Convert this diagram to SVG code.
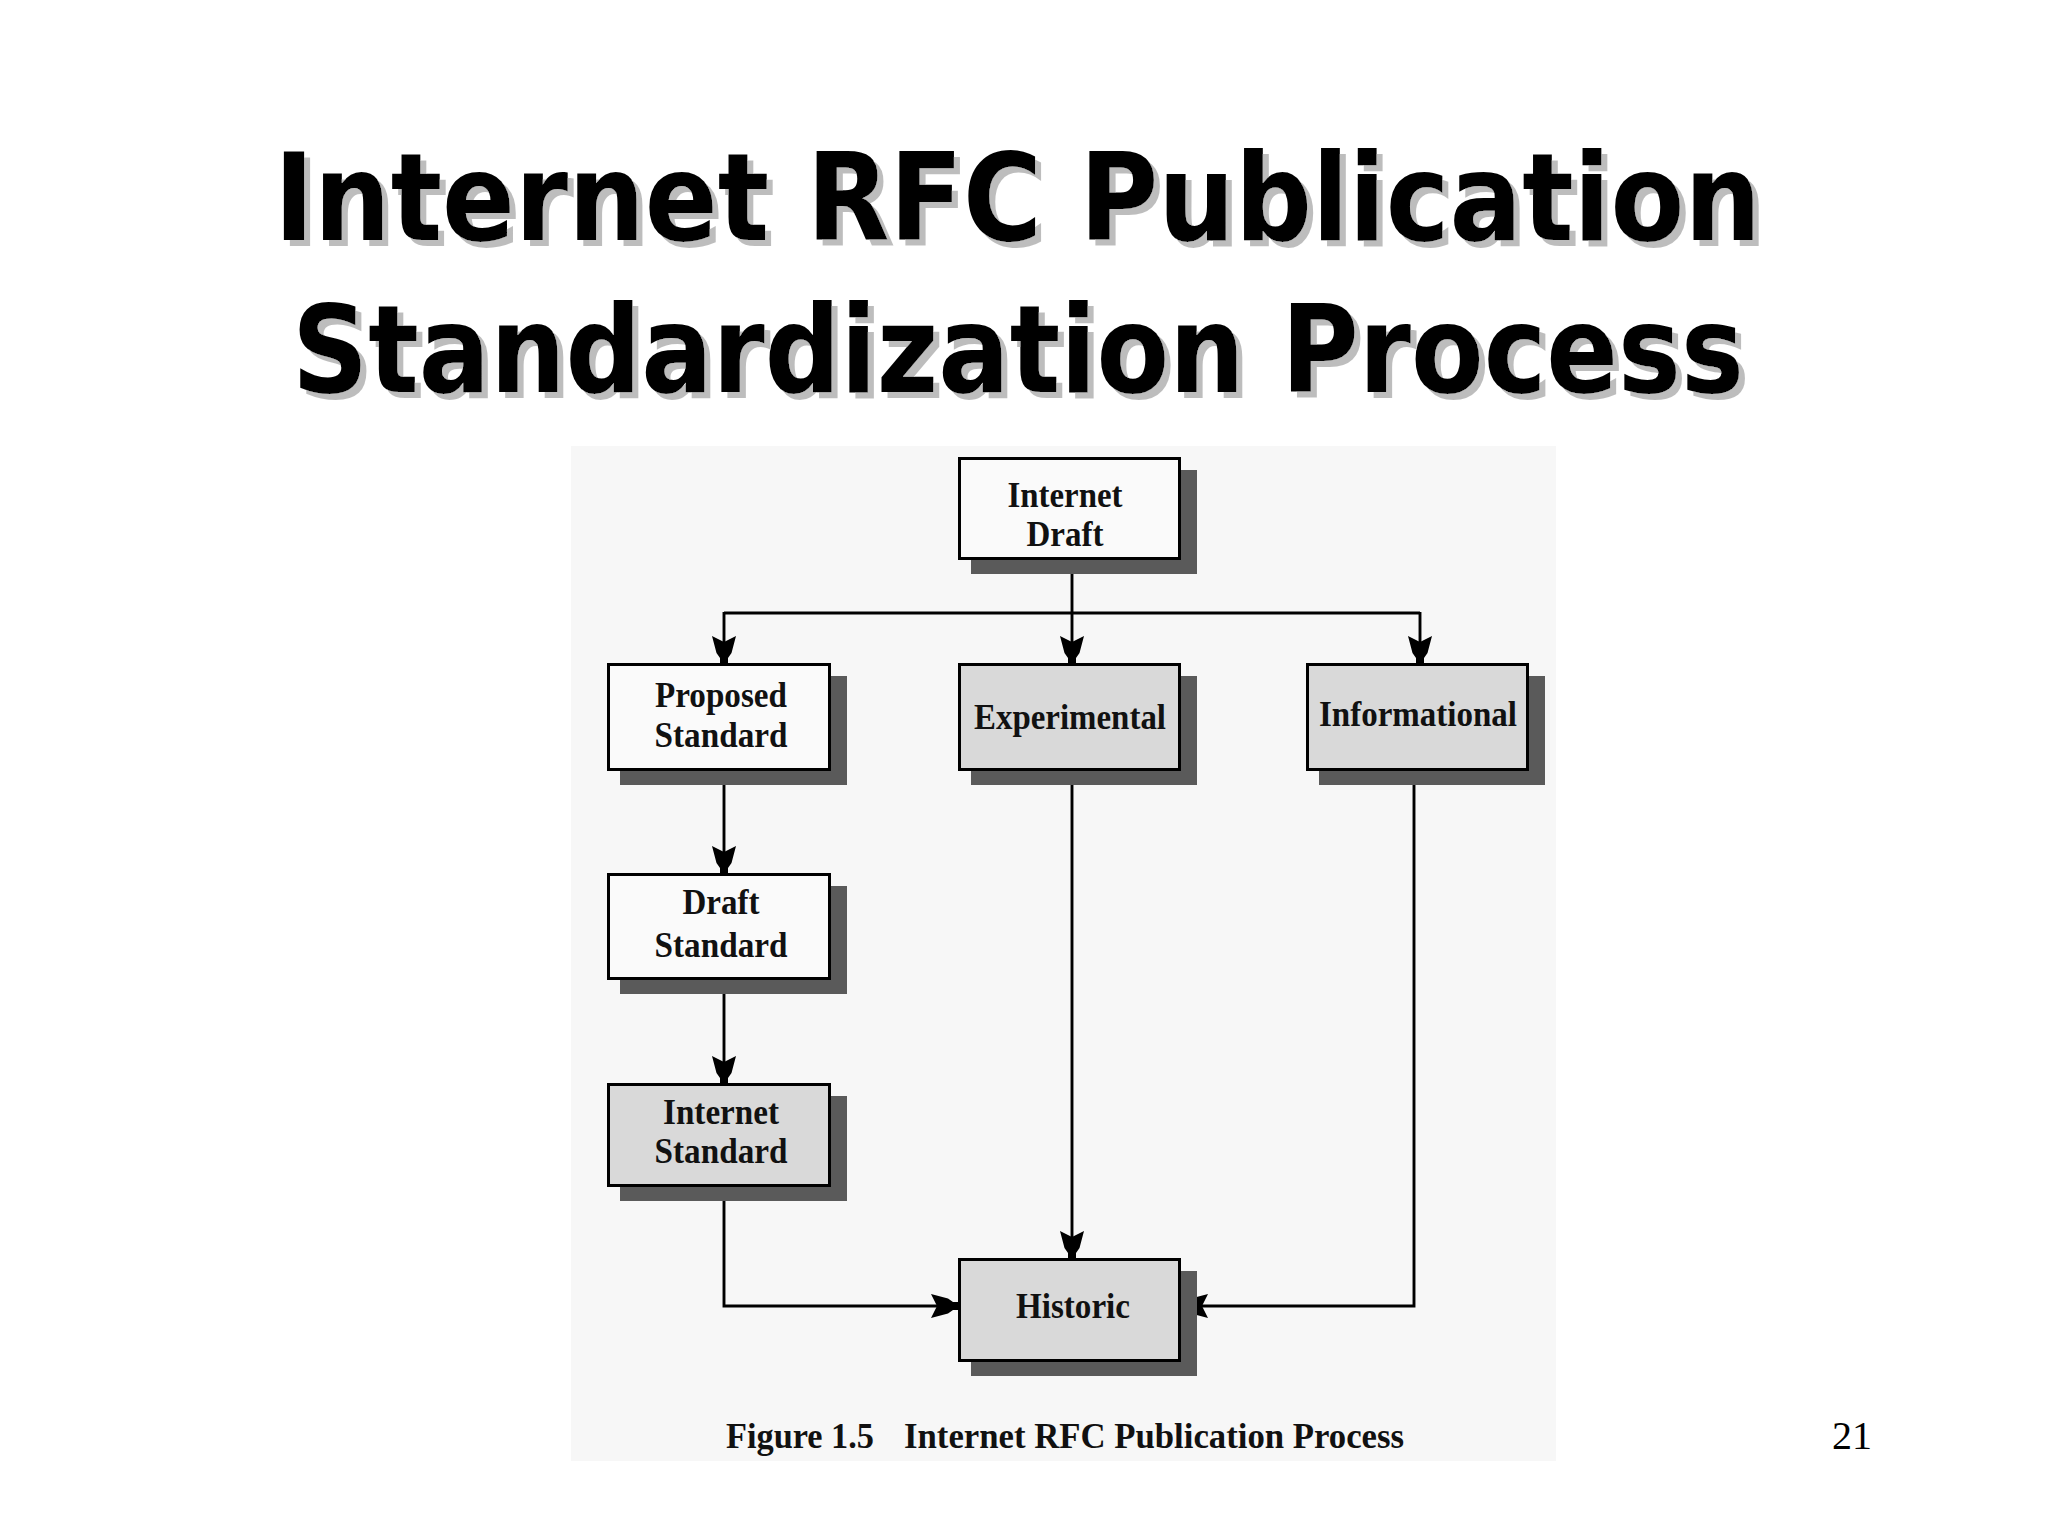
<svg xmlns="http://www.w3.org/2000/svg" width="2048" height="1536" viewBox="0 0 2048 1536">
<style>
.title{font-family:"DejaVu Sans","Liberation Sans",sans-serif;font-weight:bold;font-size:122px;fill:#000000;filter:url(#tsh);}
.box{stroke:#000000;stroke-width:3;}
.white{fill:#fafafa;}
.gray{fill:#d9d9d9;}
.shadow{fill:#5a5a5a;}
.nt{font-family:"Liberation Serif","Times New Roman",serif;font-weight:bold;font-size:36px;fill:#111111;text-anchor:middle;}
.conn{fill:none;stroke:#000000;stroke-width:2.9;}
.cap{font-family:"Liberation Serif","Times New Roman",serif;font-weight:bold;font-size:36px;fill:#111111;}
.pg{font-family:"Liberation Serif","Times New Roman",serif;font-size:40px;fill:#000000;text-anchor:middle;}
</style>
<defs>
<filter id="tsh" x="-5%" y="-20%" width="110%" height="140%">
<feFlood flood-color="#bdbdbd" result="c"/>
<feComposite in="c" in2="SourceAlpha" operator="in" result="s"/>
<feOffset in="s" dx="6" dy="6" result="so"/>
<feMerge><feMergeNode in="so"/><feMergeNode in="SourceGraphic"/></feMerge>
</filter>
<marker id="arr" markerUnits="userSpaceOnUse" orient="auto" refX="0" refY="0" markerWidth="30" markerHeight="30" overflow="visible">
<path d="M0,-4 L-5,-4 L-10,-7.5 L-27,-12 L-21,0 L-27,12 L-10,7.5 L-5,4 L0,4 Z" fill="#000000"/>
</marker>
</defs>
<rect x="0" y="0" width="2048" height="1536" fill="#ffffff"/>
<g id="title">
<text class="title" x="274" y="240" textLength="1487" lengthAdjust="spacingAndGlyphs">Internet RFC Publication</text>
<text class="title" x="292" y="392" textLength="1452" lengthAdjust="spacingAndGlyphs">Standardization Process</text>
</g>
<rect id="figure-bg" x="571" y="446" width="985" height="1015" fill="#f7f7f7"/>
<g id="connectors">
<path class="conn" d="M1072,560 L1072,663" marker-end="url(#arr)"/>
<path class="conn" d="M724,613 L1420,613"/>
<path class="conn" d="M724,612 L724,663" marker-end="url(#arr)"/>
<path class="conn" d="M1420,612 L1420,663" marker-end="url(#arr)"/>
<path class="conn" d="M724,771 L724,873" marker-end="url(#arr)"/>
<path class="conn" d="M724,980 L724,1083" marker-end="url(#arr)"/>
<path class="conn" d="M724,1187 L724,1306 L958,1306" marker-end="url(#arr)"/>
<path class="conn" d="M1072,771 L1072,1258" marker-end="url(#arr)"/>
<path class="conn" d="M1414,771 L1414,1306 L1181,1306" marker-end="url(#arr)"/>
</g>
<g id="node-internet-draft">
<rect class="shadow" x="971" y="470" width="226" height="104"/>
<rect class="box white" x="959.5" y="458.5" width="220" height="100"/>
<text class="nt" x="1065" y="507" textLength="115" lengthAdjust="spacingAndGlyphs">Internet</text>
<text class="nt" x="1065" y="546" textLength="77" lengthAdjust="spacingAndGlyphs">Draft</text>
</g>
<g id="node-proposed-standard">
<rect class="shadow" x="620" y="676" width="227" height="109"/>
<rect class="box white" x="608.5" y="664.5" width="221" height="105"/>
<text class="nt" x="721" y="707" textLength="132" lengthAdjust="spacingAndGlyphs">Proposed</text>
<text class="nt" x="721" y="747" textLength="133" lengthAdjust="spacingAndGlyphs">Standard</text>
</g>
<g id="node-experimental">
<rect class="shadow" x="971" y="676" width="226" height="109"/>
<rect class="box gray" x="959.5" y="664.5" width="220" height="105"/>
<text class="nt" x="1070" y="729" textLength="192" lengthAdjust="spacingAndGlyphs">Experimental</text>
</g>
<g id="node-informational">
<rect class="shadow" x="1319" y="676" width="226" height="109"/>
<rect class="box gray" x="1307.5" y="664.5" width="220" height="105"/>
<text class="nt" x="1418" y="726" textLength="198" lengthAdjust="spacingAndGlyphs">Informational</text>
</g>
<g id="node-draft-standard">
<rect class="shadow" x="620" y="886" width="227" height="108"/>
<rect class="box white" x="608.5" y="874.5" width="221" height="104"/>
<text class="nt" x="721" y="914" textLength="77" lengthAdjust="spacingAndGlyphs">Draft</text>
<text class="nt" x="721" y="957" textLength="133" lengthAdjust="spacingAndGlyphs">Standard</text>
</g>
<g id="node-internet-standard">
<rect class="shadow" x="620" y="1096" width="227" height="105"/>
<rect class="box gray" x="608.5" y="1084.5" width="221" height="101"/>
<text class="nt" x="721" y="1124" textLength="116" lengthAdjust="spacingAndGlyphs">Internet</text>
<text class="nt" x="721" y="1163" textLength="133" lengthAdjust="spacingAndGlyphs">Standard</text>
</g>
<g id="node-historic">
<rect class="shadow" x="971" y="1271" width="226" height="105"/>
<rect class="box gray" x="959.5" y="1259.5" width="220" height="101"/>
<text class="nt" x="1073" y="1318" textLength="114" lengthAdjust="spacingAndGlyphs">Historic</text>
</g>
<g id="caption">
<text class="cap" x="726" y="1448" textLength="148" lengthAdjust="spacingAndGlyphs">Figure 1.5</text>
<text class="cap" x="904" y="1448" textLength="500" lengthAdjust="spacingAndGlyphs">Internet RFC Publication Process</text>
</g>
<text id="page-number" class="pg" x="1852" y="1449">21</text>
</svg>
